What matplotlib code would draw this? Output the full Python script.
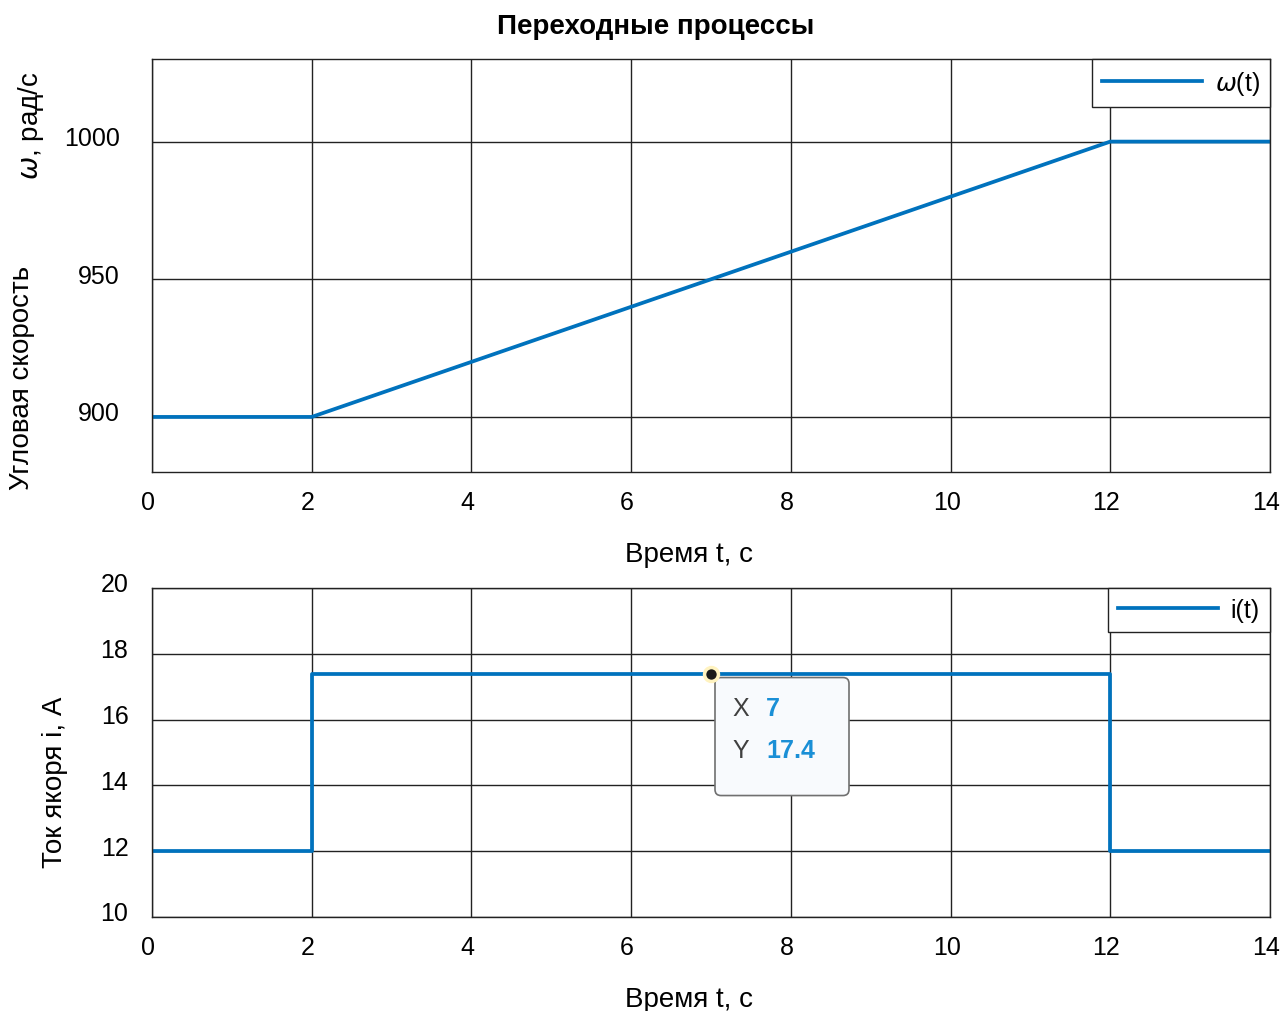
import matplotlib
matplotlib.use("Agg")
import matplotlib.pyplot as plt
import matplotlib.transforms as mtransforms
from matplotlib.patches import FancyBboxPatch

plt.rcParams['font.family'] = ['Liberation Sans', 'DejaVu Sans']
plt.rcParams['mathtext.fontset'] = 'dejavusans'

# данные
t_omega = [0, 2, 12, 14]
omega = [900, 900, 1000, 1000]
t_cur = [0, 2, 2, 12, 12, 14]
cur = [12, 12, 17.4, 17.4, 12, 12]
tip_x, tip_y = 7, 17.4

x_ticks = [0, 2, 4, 6, 8, 10, 12, 14]
omega_ticks = [900, 950, 1000]
cur_ticks = [10, 12, 14, 16, 18, 20]

blue = '#0072BD'
fs = 18
fl = 20

fig = plt.figure(figsize=(12.8, 10.12), dpi=100)
ax1 = fig.add_axes([152/1280, 1-473/1012, 1118/1280, 413/1012])
ax2 = fig.add_axes([152/1280, 1-918/1012, 1118/1280, 329/1012])

# сдвиги подписей делений, как в оригинале
xshift = mtransforms.ScaledTranslation(-4/100, 0, fig.dpi_scale_trans)
yshift = mtransforms.ScaledTranslation(0, 6/100, fig.dpi_scale_trans)

#-----верхний график-----#
ax1.plot(t_omega, omega, color=blue, lw=2.7, label=r'$\omega$(t)')
ax1.set_xlim(0, 14)
ax1.set_ylim(880, 1030)
ax1.set_xticks(x_ticks)
ax1.set_yticks(omega_ticks)
ax1.tick_params(axis='y', length=0, pad=23, labelsize=fs)
ax1.tick_params(axis='x', length=0, pad=13, labelsize=fs)
ax1.set_xlabel('Время t, с', fontsize=fl)
ax1.xaxis.set_label_coords((689-152)/1118, -0.168)
ax1.grid(True, color='#222222', lw=1.0)
leg1 = ax1.legend(loc='upper right', fancybox=False,
                  edgecolor='#222222', framealpha=1, fontsize=fs,
                  handlelength=4.0, handletextpad=0.5, borderpad=0.4,
                  borderaxespad=0)
leg1.get_frame().set_linewidth(1.0)

# подпись оси y из двух частей
fig.text(22/1280, 1-378/1012, 'Угловая скорость', fontsize=fl, rotation=90,
         ha='center', va='center')
fig.text(31/1280, 1-126/1012, r'$\omega$, рад/с', fontsize=fl, rotation=90,
         ha='center', va='center')

fig.text(656/1280, 1-27/1012, 'Переходные процессы', fontsize=20, fontweight='bold',
         ha='center', va='center')

#-----нижний график-----#
ax2.plot(t_cur, cur, color=blue, lw=2.7, label='i(t)')
ax2.set_xlim(0, 14)
ax2.set_ylim(10, 20)
ax2.set_xticks(x_ticks)
ax2.set_yticks(cur_ticks)
ax2.tick_params(axis='y', length=0, pad=17, labelsize=fs)
ax2.tick_params(axis='x', length=0, pad=13, labelsize=fs)
ax2.set_xlabel('Время t, с', fontsize=fl)
ax2.xaxis.set_label_coords((689-152)/1118, -0.21)
ax2.set_ylabel('Ток якоря i, А', fontsize=fl)
ax2.yaxis.set_label_coords(-(152-68)/1118, 0.413)
ax2.grid(True, color='#222222', lw=1.0)
leg2 = ax2.legend(loc='upper right', fancybox=False,
                  edgecolor='#222222', framealpha=1, fontsize=fs,
                  handlelength=4.0, handletextpad=0.5, borderpad=0.4,
                  borderaxespad=0)
leg2.get_frame().set_linewidth(1.0)

for ax in (ax1, ax2):
    for s in ax.spines.values():
        s.set_color('#222222')
        s.set_linewidth(1.0)
    for lab in ax.get_xticklabels():
        lab.set_transform(lab.get_transform() + xshift)
    for lab in ax.get_yticklabels():
        lab.set_transform(lab.get_transform() + yshift)

#-----подсказка с данными-----#
px, py = ax2.transData.transform((tip_x, tip_y))
tr = mtransforms.Affine2D().translate(px, py)
box = FancyBboxPatch((4, -122), 134, 118, boxstyle='round,pad=0,rounding_size=6',
                     transform=tr, facecolor='#f8fafd', edgecolor='#707070',
                     lw=1.2, zorder=5, clip_on=False)
ax2.add_patch(box)
ax2.set_xlim(0, 14)
ax2.set_ylim(10, 20)
ax2.plot(tip_x, tip_y, 'o', ms=10, mfc='#1a1a1a', mec='#fff3c0', mew=2.5, zorder=6)
ax2.annotate('X', xy=(tip_x, tip_y), xytext=(21, -34), textcoords='offset pixels',
             fontsize=fs, color='#404040', va='center', zorder=7)
ax2.annotate(str(tip_x), xy=(tip_x, tip_y), xytext=(55, -34), textcoords='offset pixels',
             fontsize=fs, color='#1a8fd6', fontweight='bold', va='center', zorder=7)
ax2.annotate('Y', xy=(tip_x, tip_y), xytext=(21, -76), textcoords='offset pixels',
             fontsize=fs, color='#404040', va='center', zorder=7)
ax2.annotate(str(tip_y), xy=(tip_x, tip_y), xytext=(55, -76), textcoords='offset pixels',
             fontsize=fs, color='#1a8fd6', fontweight='bold', va='center', zorder=7)

fig.savefig('out.png', dpi=100)
